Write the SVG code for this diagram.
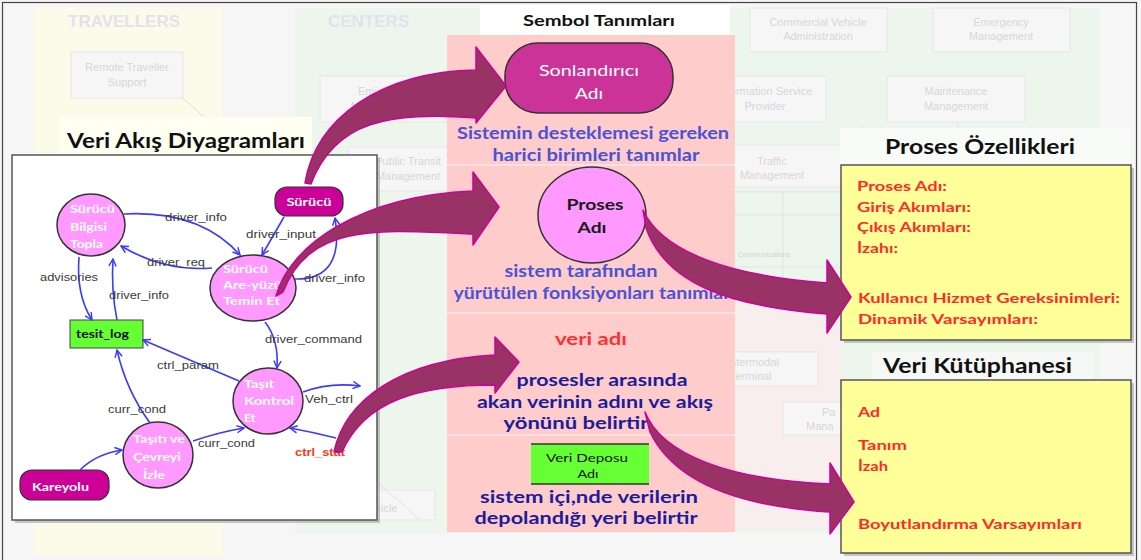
<svg xmlns="http://www.w3.org/2000/svg" width="1141" height="560" viewBox="0 0 1141 560">
  <defs>
    <style>
      text { lengthAdjust: spacingAndGlyphs; }
      .bgtxt { font-family: "Liberation Sans", Arial, sans-serif; font-size: 11px; fill: #d6d6d6; text-anchor: middle; }
      .bghead { font-family: "Liberation Sans", Arial, sans-serif; font-size: 17px; font-weight: bold; fill: #e2e2ef; }
      .bgbox { fill: #f6f6f6; stroke: #e6e6e6; stroke-width: 1; }
      .title { font-family: Lato, "Liberation Sans", sans-serif; font-size: 21px; font-weight: bold; fill: #111; }
      .flow { fill: none; stroke: #3b3bff; stroke-width: 1.6; marker-end: url(#chev); }
      .flab { font-family: "Liberation Sans", Arial, sans-serif; font-size: 11.5px; fill: #3a3a3a; }
      .proc { fill: #ff99ff; stroke: #333; stroke-width: 1.5; }
      .term { fill: #cc0099; stroke: #333; stroke-width: 1.2; }
      .ntxt { font-family: Lato, "Liberation Sans", sans-serif; font-size: 12px; font-weight: bold; fill: #fff; }
      .big { fill: #993366; stroke: #cc0099; stroke-width: 1.5; stroke-linejoin: round; }
      .blue { font-family: Lato, "Liberation Sans", sans-serif; font-size: 17px; font-weight: bold; fill: #4a52d6; text-anchor: middle; }
      .navy { font-family: Lato, "Liberation Sans", sans-serif; font-size: 17px; font-weight: bold; fill: #1c1c9a; text-anchor: middle; }
      .red { font-family: Lato, "Liberation Sans", sans-serif; font-size: 14px; font-weight: bold; fill: #ff2b2b; }
      .ybox { fill: #ffff99; stroke: #555; stroke-width: 1.5; }
      .shadow { fill: #9a9a9a; opacity: 0.55; }
    </style>
    <marker id="chev" viewBox="0 0 10 10" refX="9" refY="5" markerWidth="9" markerHeight="9" markerUnits="userSpaceOnUse" orient="auto">
      <path d="M1,1 L9,5 L1,9" fill="none" stroke="#3b3bff" stroke-width="1.6"/>
    </marker>
  </defs>

  <!-- faded architecture backdrop -->
  <g id="backdrop">
    <rect x="0" y="0" width="1141" height="560" fill="#f6f6f6"/>
    <rect x="33" y="8" width="189" height="548" fill="#fbfbe9"/>
    <rect x="295" y="8" width="805" height="525" fill="#ecf6ec"/>
    <rect x="730" y="290" width="112" height="240" fill="#f9eeee"/>
    <text class="bghead" x="68" y="27">TRAVELLERS</text>
    <text class="bghead" x="328" y="27">CENTERS</text>
    <rect class="bgbox" x="71" y="52" width="112" height="46"/>
    <text class="bgtxt" x="127" y="71">Remote Traveller</text>
    <text class="bgtxt" x="127" y="86">Support</text>
    <line x1="183" y1="98" x2="205" y2="118" stroke="#dcdcdc"/>
    <rect class="bgbox" x="320" y="76" width="125" height="46"/>
    <text class="bgtxt" x="383" y="95">Emissions</text>
    <text class="bgtxt" x="383" y="110">Management</text>
    <rect class="bgbox" x="348" y="147" width="120" height="44"/>
    <text class="bgtxt" x="408" y="165">Public Transit</text>
    <text class="bgtxt" x="408" y="180">Management</text>
    <rect class="bgbox" x="750" y="8" width="137" height="44"/>
    <text class="bgtxt" x="818" y="26">Commercial Vehicle</text>
    <text class="bgtxt" x="818" y="40">Administration</text>
    <rect class="bgbox" x="933" y="8" width="137" height="44"/>
    <text class="bgtxt" x="1001" y="26">Emergency</text>
    <text class="bgtxt" x="1001" y="40">Management</text>
    <rect class="bgbox" x="700" y="76" width="126" height="46"/>
    <text class="bgtxt" x="765" y="95">Information Service</text>
    <text class="bgtxt" x="765" y="110">Provider</text>
    <rect class="bgbox" x="887" y="76" width="138" height="46"/>
    <text class="bgtxt" x="956" y="95">Maintenance</text>
    <text class="bgtxt" x="956" y="110">Management</text>
    <rect class="bgbox" x="700" y="145" width="150" height="42"/>
    <text class="bgtxt" x="772" y="165">Traffic</text>
    <text class="bgtxt" x="772" y="179">Management</text>
    <line x1="735" y1="192" x2="842" y2="192" stroke="#e2e2e2"/>
    <line x1="735" y1="215" x2="842" y2="215" stroke="#e2e2e2"/>
    <line x1="783" y1="192" x2="783" y2="290" stroke="#e2e2e2"/>
    <text x="738" y="257" font-family="Liberation Sans, Arial, sans-serif" font-size="7" fill="#d2d2d2">Communications</text>
    <line x1="735" y1="267" x2="842" y2="267" stroke="#e2e2e2"/>
    <rect class="bgbox" x="700" y="352" width="118" height="34"/>
    <text x="727" y="366" font-family="Liberation Sans, Arial, sans-serif" font-size="11" fill="#d6d6d6">Intermodal</text>
    <text x="730" y="380" font-family="Liberation Sans, Arial, sans-serif" font-size="11" fill="#d6d6d6">Terminal</text>
    <rect class="bgbox" x="783" y="402" width="110" height="33"/>
    <text x="822" y="416" font-family="Liberation Sans, Arial, sans-serif" font-size="11" fill="#d6d6d6">Pa</text>
    <text x="806" y="430" font-family="Liberation Sans, Arial, sans-serif" font-size="11" fill="#d6d6d6">Mana</text>
    <line x1="862" y1="125" x2="862" y2="165" stroke="#e2e2e2"/>
    <line x1="958" y1="122" x2="958" y2="165" stroke="#e2e2e2"/>
    <rect class="bgbox" x="340" y="490" width="95" height="30"/>
    <text x="362" y="512" font-family="Liberation Sans, Arial, sans-serif" font-size="11" fill="#d6d6d6">Vehicle</text>
    <line x1="330" y1="440" x2="420" y2="520" stroke="#e2e2e2"/>
  </g>

  <!-- symbol definitions panel -->
  <g id="symbol-panel">
    <rect x="480" y="5" width="250" height="30" fill="#ffffff"/>
    <text x="599" y="26" font-family="Lato, Liberation Sans, sans-serif" font-size="16" font-weight="bold" fill="#111" text-anchor="middle" textLength="152" lengthAdjust="spacingAndGlyphs">Sembol Tanımları</text>
    <rect x="447" y="35" width="288" height="497" fill="#ffcccc"/>
    <line x1="447" y1="165" x2="735" y2="165" stroke="#ffe8e8" stroke-width="1.5"/>
    <line x1="447" y1="313" x2="735" y2="313" stroke="#ffe8e8" stroke-width="1.5"/>
    <line x1="447" y1="435" x2="735" y2="435" stroke="#ffe8e8" stroke-width="1.5"/>
  </g>

  <g id="sym-terminator">
    <rect x="505" y="43" width="168" height="70" rx="33" fill="#cc3399" stroke="#333" stroke-width="1.5"/>
    <text x="589" y="76" font-family="Lato, Liberation Sans, sans-serif" font-size="16" fill="#fff" text-anchor="middle" textLength="100" lengthAdjust="spacingAndGlyphs">Sonlandırıcı</text>
    <text x="589" y="99" font-family="Lato, Liberation Sans, sans-serif" font-size="16" fill="#fff" text-anchor="middle" textLength="28" lengthAdjust="spacingAndGlyphs">Adı</text>
    <text class="blue" x="593" y="139" textLength="272" lengthAdjust="spacingAndGlyphs">Sistemin desteklemesi gereken</text>
    <text class="blue" x="596" y="161" textLength="207" lengthAdjust="spacingAndGlyphs">harici birimleri tanımlar</text>
  </g>

  <g id="sym-process">
    <ellipse cx="592" cy="215" rx="54" ry="48" class="proc"/>
    <text x="595" y="210" font-family="Lato, Liberation Sans, sans-serif" font-size="16" font-weight="bold" fill="#1a1a1a" text-anchor="middle" textLength="57" lengthAdjust="spacingAndGlyphs">Proses</text>
    <text x="592" y="233" font-family="Lato, Liberation Sans, sans-serif" font-size="16" font-weight="bold" fill="#1a1a1a" text-anchor="middle" textLength="29" lengthAdjust="spacingAndGlyphs">Adı</text>
    <text class="blue" x="581" y="277" textLength="153" lengthAdjust="spacingAndGlyphs">sistem tarafından</text>
    <text class="blue" x="592" y="299" textLength="277" lengthAdjust="spacingAndGlyphs">yürütülen fonksiyonları tanımlar</text>
  </g>

  <g id="sym-dataflow">
    <text x="591" y="345" font-family="Lato, Liberation Sans, sans-serif" font-size="17" font-weight="bold" fill="#ff3030" text-anchor="middle" textLength="72" lengthAdjust="spacingAndGlyphs">veri adı</text>
    <text class="navy" x="602" y="386" textLength="171" lengthAdjust="spacingAndGlyphs">prosesler arasında</text>
    <text class="navy" x="595" y="408" textLength="236" lengthAdjust="spacingAndGlyphs">akan verinin adını ve akış</text>
    <text class="navy" x="576" y="429" textLength="145" lengthAdjust="spacingAndGlyphs">yönünü belirtir</text>
  </g>

  <g id="sym-datastore">
    <rect x="531" y="444" width="118" height="40" fill="#66ff33"/>
    <line x1="531" y1="444" x2="649" y2="444" stroke="#333" stroke-width="1.5"/>
    <line x1="531" y1="484" x2="649" y2="484" stroke="#333" stroke-width="1.5"/>
    <text x="587" y="462" font-family="Lato, Liberation Sans, sans-serif" font-size="12" fill="#111" text-anchor="middle" textLength="82" lengthAdjust="spacingAndGlyphs">Veri Deposu</text>
    <text x="588" y="478" font-family="Lato, Liberation Sans, sans-serif" font-size="12" fill="#111" text-anchor="middle" textLength="21" lengthAdjust="spacingAndGlyphs">Adı</text>
    <text class="navy" x="589" y="503" textLength="218" lengthAdjust="spacingAndGlyphs">sistem içi,nde verilerin</text>
    <text class="navy" x="586" y="524" textLength="223" lengthAdjust="spacingAndGlyphs">depolandığı yeri belirtir</text>
  </g>

  <!-- data flow diagram -->
  <g id="dfd-frame">
    <rect x="60" y="117" width="252" height="40" fill="#fffff2"/>
    <text class="title" x="67" y="148" textLength="238" lengthAdjust="spacingAndGlyphs">Veri Akış Diyagramları</text>
    <rect x="15" y="158" width="365" height="365" class="shadow"/>
    <rect x="12" y="155" width="365" height="365" fill="#ffffff" stroke="#555" stroke-width="1.5"/>
  </g>

  <g id="n-surucu-bilgisi">
    <ellipse cx="91" cy="225" rx="34" ry="31" class="proc"/>
    <text class="ntxt" x="70" y="213" textLength="45" lengthAdjust="spacingAndGlyphs">Sürücü</text>
    <text class="ntxt" x="70" y="231" textLength="37" lengthAdjust="spacingAndGlyphs">Bilgisi</text>
    <text class="ntxt" x="70" y="248" textLength="33" lengthAdjust="spacingAndGlyphs">Topla</text>
  </g>
  <g id="n-surucu">
    <rect x="275" y="187" width="68" height="29" rx="12" class="term"/>
    <text class="ntxt" x="309" y="206" text-anchor="middle" textLength="45" lengthAdjust="spacingAndGlyphs">Sürücü</text>
  </g>
  <g id="n-arayuz">
    <ellipse cx="253" cy="288" rx="43" ry="33" class="proc"/>
    <text class="ntxt" x="223" y="273" textLength="45" lengthAdjust="spacingAndGlyphs">Sürücü</text>
    <text class="ntxt" x="223" y="289" textLength="59" lengthAdjust="spacingAndGlyphs">Are-yüzü</text>
    <text class="ntxt" x="223" y="305" textLength="57" lengthAdjust="spacingAndGlyphs">Temin Et</text>
  </g>
  <g id="n-tesit-log">
    <rect x="70" y="320" width="73" height="28" fill="#66ff33" stroke="#444" stroke-width="1"/>
    <text x="76" y="338" font-family="Lato, Liberation Sans, sans-serif" font-size="12" font-weight="bold" fill="#111" textLength="53" lengthAdjust="spacingAndGlyphs">tesit_log</text>
  </g>
  <g id="n-tasit-kontrol">
    <ellipse cx="268" cy="401" rx="35" ry="33" class="proc"/>
    <text class="ntxt" x="244" y="388" textLength="30" lengthAdjust="spacingAndGlyphs">Taşıt</text>
    <text class="ntxt" x="244" y="405" textLength="50" lengthAdjust="spacingAndGlyphs">Kontrol</text>
    <text class="ntxt" x="244" y="422">Et</text>
  </g>
  <g id="n-cevre-izle">
    <ellipse cx="158" cy="455" rx="35" ry="33" class="proc"/>
    <text class="ntxt" x="159" y="443" text-anchor="middle" textLength="52" lengthAdjust="spacingAndGlyphs">Taşıtı ve</text>
    <text class="ntxt" x="157" y="461" text-anchor="middle" textLength="48" lengthAdjust="spacingAndGlyphs">Çevreyi</text>
    <text class="ntxt" x="154" y="479" text-anchor="middle" textLength="22" lengthAdjust="spacingAndGlyphs">İzle</text>
  </g>
  <g id="n-kareyolu">
    <rect x="20" y="470" width="89" height="30" rx="12" class="term"/>
    <text class="ntxt" x="32" y="491" textLength="57" lengthAdjust="spacingAndGlyphs">Kareyolu</text>
  </g>

  <g id="flows">
    <path class="flow" d="M124,214 Q200,210 240,255"/>
    <path class="flow" d="M284,217 L262,255"/>
    <path class="flow" d="M212,268 Q165,272 121,246"/>
    <path class="flow" d="M295,279 Q345,280 335,218"/>
    <path class="flow" d="M79,257 Q76,295 92,320"/>
    <path class="flow" d="M117,320 Q111,290 113,259"/>
    <path class="flow" d="M265,322 Q279,340 277,368"/>
    <path class="flow" d="M239,381 Q190,360 143,340"/>
    <path class="flow" d="M150,423 Q126,390 117,350"/>
    <path class="flow" d="M193,441 Q220,432 244,428"/>
    <path class="flow" d="M80,470 Q96,454 122,450"/>
    <path class="flow" d="M303,392 Q330,382 360,386"/>
    <path class="flow" d="M336,438 Q312,432 290,428"/>
    <text class="flab" x="165" y="221" textLength="62" lengthAdjust="spacingAndGlyphs">driver_info</text>
    <text class="flab" x="246" y="238" textLength="70" lengthAdjust="spacingAndGlyphs">driver_input</text>
    <text class="flab" x="147" y="266" textLength="58" lengthAdjust="spacingAndGlyphs">driver_req</text>
    <text class="flab" x="304" y="282" textLength="61" lengthAdjust="spacingAndGlyphs">driver_info</text>
    <text class="flab" x="40" y="281" textLength="58" lengthAdjust="spacingAndGlyphs">advisories</text>
    <text class="flab" x="109" y="299" textLength="60" lengthAdjust="spacingAndGlyphs">driver_info</text>
    <text class="flab" x="265" y="343" textLength="97" lengthAdjust="spacingAndGlyphs">driver_command</text>
    <text class="flab" x="157" y="369" textLength="62" lengthAdjust="spacingAndGlyphs">ctrl_param</text>
    <text class="flab" x="108" y="413" textLength="58" lengthAdjust="spacingAndGlyphs">curr_cond</text>
    <text class="flab" x="198" y="447" textLength="57" lengthAdjust="spacingAndGlyphs">curr_cond</text>
    <text class="flab" x="305" y="403" textLength="48" lengthAdjust="spacingAndGlyphs">Veh_ctrl</text>
    <text x="295" y="456" font-family="Liberation Sans, Arial, sans-serif" font-size="11.5" font-weight="bold" fill="#ff3a10" textLength="50" lengthAdjust="spacingAndGlyphs">ctrl_stat</text>
  </g>

  <!-- right-hand specification cards -->
  <g id="proses-ozellikleri">
    <rect x="840" y="128" width="290" height="36" fill="#f8fbf8"/>
    <text class="title" x="885" y="154" textLength="190" lengthAdjust="spacingAndGlyphs">Proses Özellikleri</text>
    <rect x="844" y="168" width="290" height="175" class="shadow"/>
    <rect x="841" y="165" width="290" height="175" class="ybox"/>
    <text class="red" x="857" y="191" textLength="90" lengthAdjust="spacingAndGlyphs">Proses Adı:</text>
    <text class="red" x="857" y="212" textLength="114" lengthAdjust="spacingAndGlyphs">Giriş Akımları:</text>
    <text class="red" x="857" y="232" textLength="114" lengthAdjust="spacingAndGlyphs">Çıkış Akımları:</text>
    <text class="red" x="857" y="253" textLength="41" lengthAdjust="spacingAndGlyphs">İzahı:</text>
    <text class="red" x="858" y="303" textLength="262" lengthAdjust="spacingAndGlyphs">Kullanıcı Hizmet Gereksinimleri:</text>
    <text class="red" x="858" y="324" textLength="180" lengthAdjust="spacingAndGlyphs">Dinamik  Varsayımları:</text>
  </g>
  <g id="veri-kutuphanesi">
    <rect x="872" y="352" width="222" height="28" fill="#f6f8f6"/>
    <text class="title" x="883" y="373" textLength="189" lengthAdjust="spacingAndGlyphs">Veri Kütüphanesi</text>
    <rect x="844" y="383" width="290" height="173" class="shadow"/>
    <rect x="841" y="380" width="290" height="173" class="ybox"/>
    <text class="red" x="858" y="417" textLength="22" lengthAdjust="spacingAndGlyphs">Ad</text>
    <text class="red" x="858" y="450" textLength="49" lengthAdjust="spacingAndGlyphs">Tanım</text>
    <text class="red" x="858" y="471" textLength="30" lengthAdjust="spacingAndGlyphs">İzah</text>
    <text class="red" x="858" y="529" textLength="224" lengthAdjust="spacingAndGlyphs">Boyutlandırma Varsayımları</text>
  </g>

  <!-- curved callout arrows linking the diagram to the symbol legend and cards -->
  <g id="callouts">
    <path class="big" d="M305,183 C316,118 380,72 476,70 L476,47 L506,86 L476,123 L476,118 C390,112 335,120 311,184 Z"/>
    <path class="big" d="M276,296 C290,245 360,196 473,191 L473,172 L499,207 L473,245 L473,234 C380,230 310,222 283,292 Z"/>
    <path class="big" d="M643,210 C662,252 730,276 827,283 L827,260 L851,297 L827,333 L827,314 C725,306 665,282 646,228 Z"/>
    <path class="big" d="M334,452 C345,400 400,360 495,355 L495,337 L519,362 L495,393 L495,385 C420,385 365,400 342,452 Z"/>
    <path class="big" d="M645,412 C662,455 730,480 830,484 L830,463 L854,502 L830,534 L830,512 C730,506 672,478 650,432 Z"/>
  </g>

  <rect x="2.5" y="2.5" width="1134" height="570" fill="none" stroke="#444" stroke-width="1.2"/>
</svg>
